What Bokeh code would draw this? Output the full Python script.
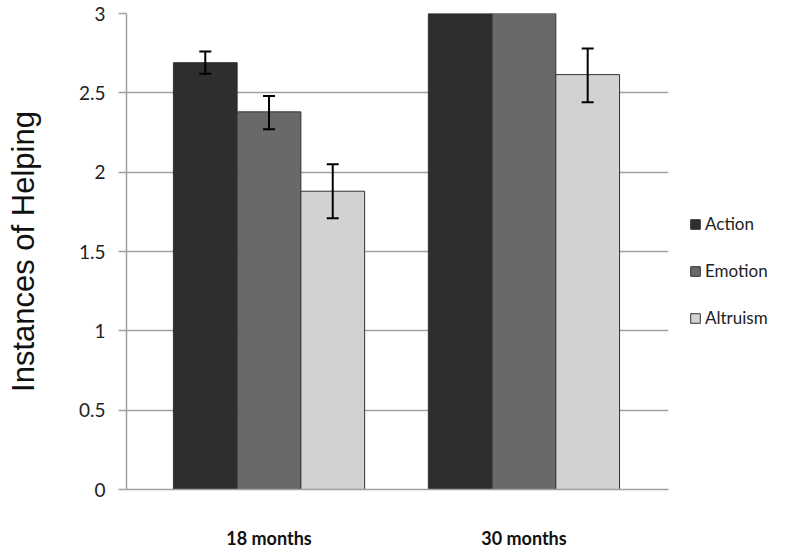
from bokeh.plotting import figure
from bokeh.models import ColumnDataSource, Whisker, TeeHead, Legend, LegendItem, FixedTicker, Range1d
from bokeh.embed import file_html
from bokeh.resources import INLINE

ages = ["18 months", "30 months"]
conditions = ["Action", "Emotion", "Altruism"]
colors = ["#2e2e2e", "#696969", "#d2d2d2"]
means = {
    "Action":   [2.69, 3.00],
    "Emotion":  [2.38, 3.00],
    "Altruism": [1.88, 2.615],
}
err_lo = {
    "Action":   [2.62, None],
    "Emotion":  [2.27, None],
    "Altruism": [1.71, 2.44],
}
err_hi = {
    "Action":   [2.76, None],
    "Emotion":  [2.48, None],
    "Altruism": [2.05, 2.78],
}
y_ticks = [0, 0.5, 1, 1.5, 2, 2.5, 3]

p = figure(frame_width=542, frame_height=476, output_backend="svg", toolbar_location=None,
           x_range=Range1d(0.441, 2.567), y_range=Range1d(0, 3),
           min_border_left=126, min_border_right=10, min_border_top=13, min_border_bottom=57)
p.outline_line_color = None
p.background_fill_color = "white"
p.border_fill_color = "white"

offsets = [-0.25, 0.0, 0.25]
renderers = []
for cond, col, off in zip(conditions, colors, offsets):
    xs = [i + 1 + off for i in range(len(ages))]
    src = ColumnDataSource(dict(x=xs, top=means[cond]))
    r = p.vbar(x="x", top="top", bottom=0, width=0.25, source=src,
               fill_color=col, line_color="#333333", line_width=1)
    renderers.append((cond, r))
    ex, el, eh = [], [], []
    for x, lo, hi in zip(xs, err_lo[cond], err_hi[cond]):
        if lo is not None:
            ex.append(x); el.append(lo); eh.append(hi)
    if ex:
        esrc = ColumnDataSource(dict(x=ex, lower=el, upper=eh))
        w = Whisker(base="x", lower="lower", upper="upper", source=esrc, level="overlay",
                    line_color="black", line_width=2,
                    upper_head=TeeHead(size=12, line_width=2, line_color="black"),
                    lower_head=TeeHead(size=12, line_width=2, line_color="black"))
        p.add_layout(w)

# y axis
p.yaxis.ticker = FixedTicker(ticks=y_ticks)
p.yaxis.major_label_overrides = {0: "0", 0.5: "0.5", 1: "1", 1.5: "1.5", 2: "2", 2.5: "2.5", 3: "3"}
p.yaxis.axis_line_color = "#a0a0a0"
p.yaxis.axis_line_width = 1.5
p.yaxis.major_tick_line_color = "#a0a0a0"
p.yaxis.major_tick_line_width = 1.5
p.yaxis.major_tick_out = 8
p.yaxis.major_tick_in = 0
p.yaxis.minor_tick_line_color = None
p.yaxis.major_label_text_font = "Lato"
p.yaxis.major_label_text_font_size = "19px"
p.yaxis.major_label_text_color = "#222222"
p.yaxis.major_label_standoff = 13
p.yaxis.axis_label = "Instances of Helping"
p.yaxis.axis_label_text_font = "Liberation Sans"
p.yaxis.axis_label_text_font_style = "normal"
p.yaxis.axis_label_text_font_size = "31px"
p.yaxis.axis_label_text_color = "#111111"
p.yaxis.axis_label_standoff = 35

# x axis
p.xaxis.ticker = FixedTicker(ticks=[1, 2])
p.xaxis.major_label_overrides = {1: ages[0], 2: ages[1]}
p.xaxis.axis_line_color = "#a0a0a0"
p.xaxis.axis_line_width = 1.5
p.xaxis.major_tick_line_color = None
p.xaxis.minor_tick_line_color = None
p.xaxis.major_label_text_font = "Lato"
p.xaxis.major_label_text_font_style = "bold"
p.xaxis.major_label_text_font_size = "18px"
p.xaxis.major_label_text_color = "#111111"
p.xaxis.major_label_standoff = 31

p.xgrid.grid_line_color = None
p.ygrid.grid_line_color = "#a0a0a0"
p.ygrid.grid_line_width = 1.5

legend = Legend(items=[LegendItem(label=c, renderers=[r]) for c, r in renderers],
                location=(21, 161), orientation="vertical",
                glyph_width=12, glyph_height=12, spacing=26,
                label_text_font="Lato", label_text_font_size="17px",
                label_text_color="#222222", border_line_color=None,
                background_fill_alpha=0, padding=4, margin=0, label_standoff=4)
p.add_layout(legend, "right")

open("out.html", "w").write(file_html(p, INLINE))
